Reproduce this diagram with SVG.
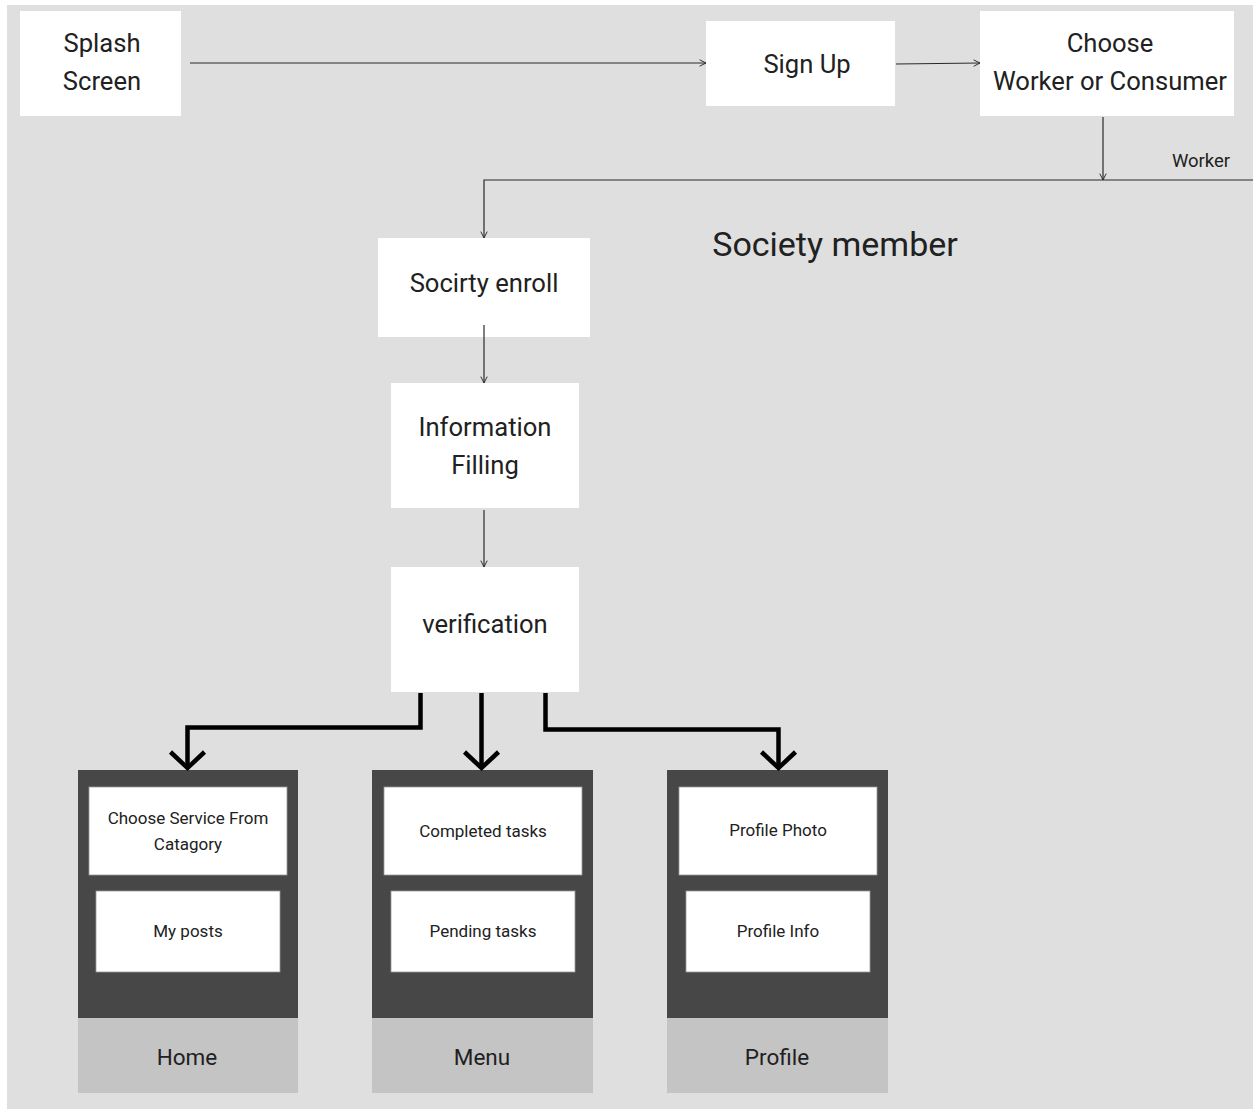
<svg xmlns="http://www.w3.org/2000/svg" width="1253" height="1109" viewBox="0 0 1253 1109">
<defs>
<style>
text{font-family:Roboto,"Liberation Sans",sans-serif;fill:#212121;text-anchor:middle}
.box{fill:#ffffff}
.inner{fill:#ffffff;stroke:#9a9a9a;stroke-width:0.8}
.panel{fill:#474747}
.tab{fill:#c4c4c4}
.t24{font-size:25.6px}
.t16{font-size:17px}
.t22{font-size:22.5px}
.thin{fill:none;stroke:#2a2a2a;stroke-width:1.2}
.thick{fill:none;stroke:#000000;stroke-width:4.5}
</style>
<marker id="ah" viewBox="0 0 10 10" refX="9" refY="5" markerWidth="8" markerHeight="8" markerUnits="userSpaceOnUse" orient="auto">
<path d="M1,1 L9,5 L1,9" fill="none" stroke="#2a2a2a" stroke-width="1.2"/>
</marker>
</defs>
<rect x="0" y="0" width="1253" height="1109" fill="#ffffff"/>
<rect x="7" y="5" width="1246" height="1104" fill="#dfdfdf"/>

<g id="splash">
<rect class="box" x="20" y="11" width="161" height="105"/>
<text x="102" y="52" class="t24">Splash</text>
<text x="102" y="90" class="t24">Screen</text>
</g>
<g id="signup">
<rect class="box" x="706" y="21" width="189" height="85"/>
<text x="807" y="73" class="t24">Sign Up</text>
</g>
<g id="choose">
<rect class="box" x="980" y="11" width="254" height="105"/>
<text x="1110" y="52" class="t24">Choose</text>
<text x="1110" y="90" class="t24">Worker or Consumer</text>
</g>
<text x="835" y="256" style="font-size:34px">Society member</text>
<g id="enroll">
<rect class="box" x="378" y="238" width="212" height="99"/>
<text x="484" y="292" class="t24">Socirty enroll</text>
</g>
<g id="info">
<rect class="box" x="391" y="383" width="188" height="125"/>
<text x="485" y="436" class="t24">Information</text>
<text x="485" y="474" class="t24">Filling</text>
</g>
<g id="verification">
<rect class="box" x="391" y="567" width="188" height="125"/>
<text x="485" y="633" class="t24">verification</text>
</g>

<g id="home">
<rect class="panel" x="78" y="770" width="220" height="248"/>
<rect class="tab" x="78" y="1018" width="220" height="75"/>
<rect class="inner" x="89" y="787" width="198" height="88"/>
<text x="188" y="824" class="t16">Choose Service From</text>
<text x="188" y="850" class="t16">Catagory</text>
<rect class="inner" x="96" y="891" width="184" height="81"/>
<text x="188" y="937" class="t16">My posts</text>
<text x="187" y="1065" class="t22">Home</text>
</g>
<g id="menu">
<rect class="panel" x="372" y="770" width="221" height="248"/>
<rect class="tab" x="372" y="1018" width="221" height="75"/>
<rect class="inner" x="384" y="787" width="198" height="88"/>
<text x="483" y="837" class="t16">Completed tasks</text>
<rect class="inner" x="391" y="891" width="184" height="81"/>
<text x="483" y="937" class="t16">Pending tasks</text>
<text x="482" y="1065" class="t22">Menu</text>
</g>
<g id="profile">
<rect class="panel" x="667" y="770" width="221" height="248"/>
<rect class="tab" x="667" y="1018" width="221" height="75"/>
<rect class="inner" x="679" y="787" width="198" height="88"/>
<text x="778" y="836" class="t16">Profile Photo</text>
<rect class="inner" x="686" y="891" width="184" height="81"/>
<text x="778" y="937" class="t16">Profile Info</text>
<text x="777" y="1065" class="t22">Profile</text>
</g>

<g id="connectors">
<line class="thin" x1="190" y1="63" x2="706" y2="63" marker-end="url(#ah)"/>
<line class="thin" x1="896" y1="64" x2="980" y2="63" marker-end="url(#ah)"/>
<line class="thin" x1="1103" y1="117" x2="1103" y2="180" marker-end="url(#ah)"/>
<polyline class="thin" points="1253,180 484,180 484,238" marker-end="url(#ah)"/>
<line class="thin" x1="484" y1="325" x2="484" y2="383" marker-end="url(#ah)"/>
<line class="thin" x1="484" y1="510" x2="484" y2="567" marker-end="url(#ah)"/>
<polyline class="thick" points="420.5,693 420.5,727.5 187.5,727.5 187.5,767"/>
<polyline class="thick" points="170.5,752 187.5,768 204.5,752"/>
<line class="thick" x1="481.5" y1="693" x2="481.5" y2="767"/>
<polyline class="thick" points="464.5,752 481.5,768 498.5,752"/>
<polyline class="thick" points="545.5,693 545.5,729.5 778.5,729.5 778.5,767"/>
<polyline class="thick" points="761.5,752 778.5,768 795.5,752"/>
</g>
<text x="1201" y="167" style="font-size:18.5px">Worker</text>
</svg>
